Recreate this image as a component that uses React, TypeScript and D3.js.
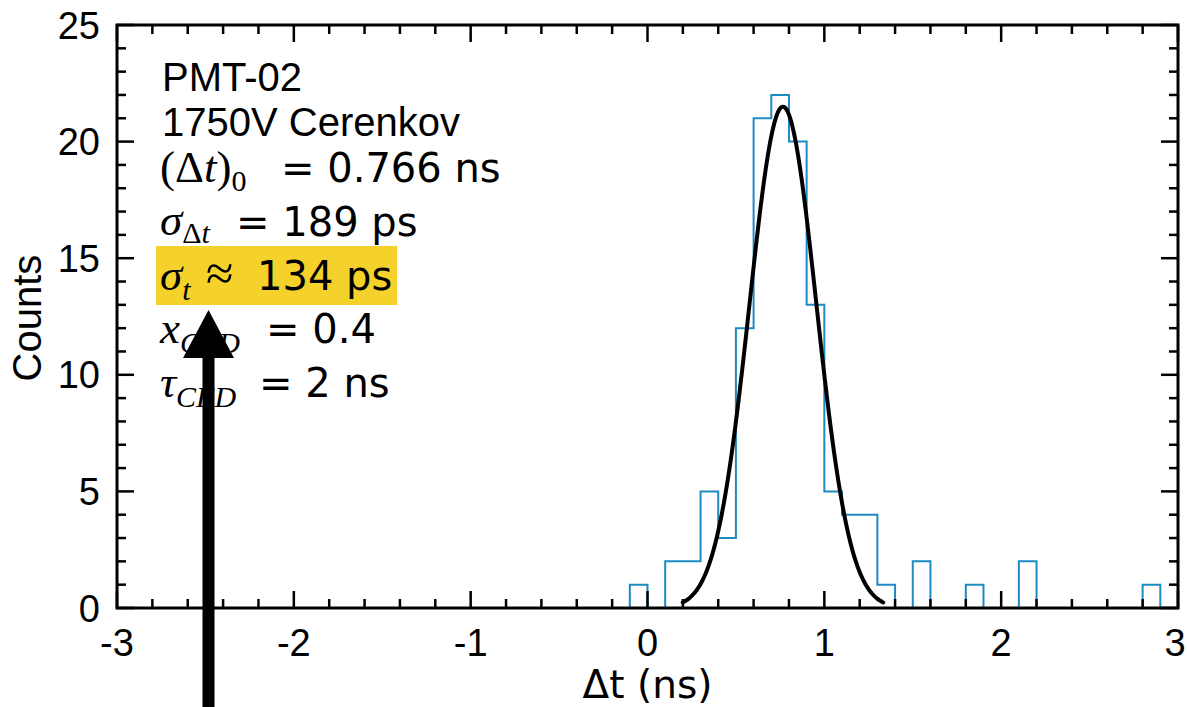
import React from "react";
import * as d3 from "d3";

// ---- data ----
const binStart = -0.1;
const binWidth = 0.1;
const counts = [1, 0, 2, 2, 5, 3, 12, 21, 22, 20, 13, 5, 4, 4, 1, 0, 2, 0, 0, 1, 0, 0, 2, 0, 0, 0, 0, 0, 0, 1];
const fitMean = 0.766;
const fitSigma = 0.189;
const fitAmp = 21.5;
const xTicks = [-3, -2, -1, 0, 1, 2, 3];
const yTicks = [0, 5, 10, 15, 20, 25];

const W = 1187;
const H = 707;
const L = 117, R = 1178, T = 25, B = 608;

const sans = "'Liberation Sans', Arial, Helvetica, sans-serif";
const dv = "'DejaVu Sans', sans-serif";
const serif = "'Liberation Serif', 'Times New Roman', serif";

export default function App() {
  const x = d3.scaleLinear().domain([-3, 3]).range([L, R]);
  const y = d3.scaleLinear().domain([0, 25]).range([B, T]);

  const pts: [number, number][] = [[binStart, 0]];
  counts.forEach((c, i) => pts.push([binStart + i * binWidth, c]));
  pts.push([binStart + counts.length * binWidth, 0]);
  const histPath = d3.line<[number, number]>().x(d => x(d[0])).y(d => y(d[1])).curve(d3.curveStepAfter)(pts) || "";

  const fitPts: [number, number][] = d3.range(0, 201).map(i => {
    const t = fitMean - 3 * fitSigma + (6 * fitSigma * i) / 200;
    return [t, fitAmp * Math.exp(-0.5 * ((t - fitMean) / fitSigma) ** 2)];
  });
  const fitPath = d3.line<[number, number]>().x(d => x(d[0])).y(d => y(d[1])).curve(d3.curveBasis)(fitPts) || "";

  const xMinor = d3.range(-3, 3.0001, 0.2);
  const yMinor = d3.range(0, 25.0001, 1);
  const majL = 17, minL = 9;

  const fs = 40;
  const mfs = 45;
  const sub = 30;

  return (
    <svg width={W} height={H} style={{ position: "absolute", left: 0, top: 0, background: "#fff" }}>
      <rect x={0} y={0} width={W} height={H} fill="#fff" />
      {/* histogram */}
      <path d={histPath} fill="none" stroke="#1d8ac4" strokeWidth={2} />
      {/* fit */}
      <path d={fitPath} fill="none" stroke="#000" strokeWidth={4} strokeLinecap="round" />

      {/* ticks */}
      <g stroke="#000" strokeWidth={2.5}>
        {xMinor.map((v, i) => {
          const isMaj = Math.abs(v - Math.round(v)) < 1e-6;
          const len = isMaj ? majL : minL;
          return (
            <g key={"xt" + i}>
              <line x1={x(v)} x2={x(v)} y1={B} y2={B - len} />
              <line x1={x(v)} x2={x(v)} y1={T} y2={T + len} />
            </g>
          );
        })}
        {yMinor.map((v, i) => {
          const isMaj = Math.round(v) % 5 === 0;
          const len = isMaj ? majL : minL;
          return (
            <g key={"yt" + i}>
              <line x1={L} x2={L + len} y1={y(v)} y2={y(v)} />
              <line x1={R} x2={R - len} y1={y(v)} y2={y(v)} />
            </g>
          );
        })}
      </g>
      <rect x={L} y={T} width={R - L} height={B - T} fill="none" stroke="#000" strokeWidth={3} />

      {/* tick labels */}
      {xTicks.map(v => (
        <text key={"xl" + v} x={Math.min(x(v), W - 12)} y={656} textAnchor="middle" fontFamily={sans} fontSize={38}>
          {v}
        </text>
      ))}
      {yTicks.map(v => (
        <text key={"yl" + v} x={100} y={y(v)} dy="0.36em" textAnchor="end" fontFamily={sans} fontSize={38}>
          {v}
        </text>
      ))}

      {/* axis titles */}
      <text x={x(0)} y={698} textAnchor="middle" fontFamily={dv} fontSize={39}>Δt (ns)</text>
      <text transform={`translate(41,318) rotate(-90)`} textAnchor="middle" fontFamily={sans} fontSize={40}>Counts</text>

      {/* annotation block */}
      <rect x={156} y={246} width={241} height={59} fill="#f5d12b" />
      <g fontSize={fs}>
        <text x={162} y={91} fontFamily={sans}>PMT-02</text>
        <text x={162} y={136} fontFamily={sans}>1750V Cerenkov</text>

        <text x={160} y={182} fontFamily={serif} fontSize={mfs}>
          (Δ<tspan fontStyle="italic">t</tspan>)
          <tspan fontSize={sub} dy={9}>0</tspan>
        </text>
        <text x={281} y={182} fontFamily={dv}>= 0.766 ns</text>

        <text x={160} y={235} fontFamily={serif} fontSize={mfs}>
          <tspan fontStyle="italic">σ</tspan>
          <tspan fontSize={sub} dy={8}>Δ</tspan>
          <tspan fontSize={sub} fontStyle="italic">t</tspan>
        </text>
        <text x={236} y={236} fontFamily={dv}>= 189 ps</text>

        <text x={160} y={290} fontFamily={serif} fontSize={mfs}>
          <tspan fontStyle="italic">σ</tspan>
          <tspan fontSize={sub} dy={10} fontStyle="italic">t</tspan>
        </text>
        <text x={206} y={290} fontFamily={serif} fontSize={50}>≈</text>
        <text x={257} y={290} fontFamily={dv}>134 ps</text>

        <text x={160} y={343} fontFamily={serif} fontSize={mfs}>
          <tspan fontStyle="italic">x</tspan>
          <tspan fontSize={sub} dy={10} fontStyle="italic">CFD</tspan>
        </text>
        <text x={266} y={343} fontFamily={dv}>= 0.4</text>

        <text x={160} y={397} fontFamily={serif} fontSize={mfs}>
          <tspan fontStyle="italic">τ</tspan>
          <tspan fontSize={sub} dy={10} fontStyle="italic">CFD</tspan>
        </text>
        <text x={259} y={397} fontFamily={dv}>= 2 ns</text>
      </g>

      {/* arrow */}
      <rect x={202.5} y={350} width={12} height={H - 350} fill="#000" />
      <polygon points={`208.5,310 183,358 234,358`} fill="#000" />
    </svg>
  );
}
